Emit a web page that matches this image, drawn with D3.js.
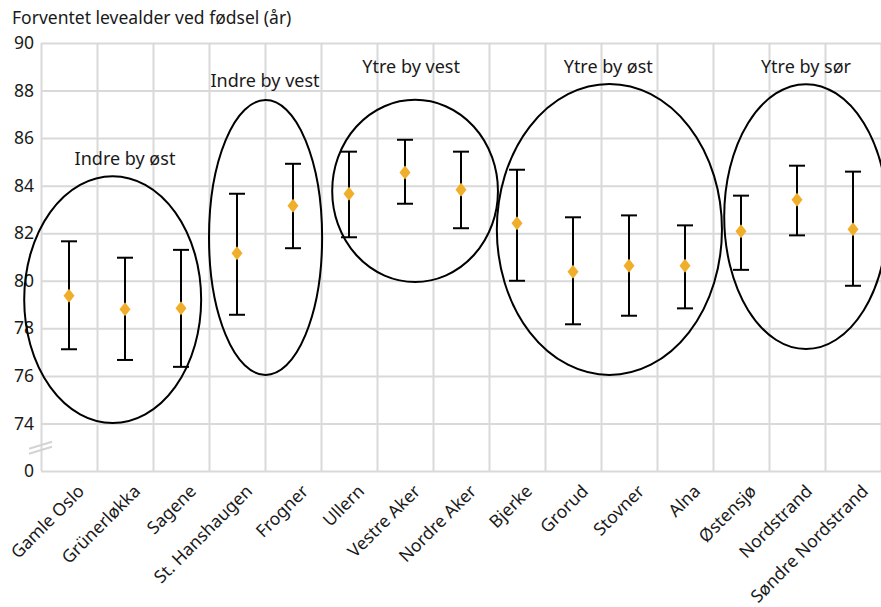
<!DOCTYPE html>
<html>
<head>
<meta charset="utf-8">
<script src="https://cdn.jsdelivr.net/npm/d3@7"></script>
<style>
  body { margin: 0; background: #fff; }
  .text { font-family: "Noto Sans", sans-serif; fill: #1a1a1a; }
  .grid line { stroke: #d9d9d9; stroke-width: 2; }
  .grid path { display: none; }
</style>
</head>
<body>
<div class="chart"></div>
<script>
// bydeler og forventet levealder (punkt + konfidensintervall)
var districts = ['Gamle Oslo', 'Grünerløkka', 'Sagene', 'St. Hanshaugen', 'Frogner', 'Ullern',
    'Vestre Aker', 'Nordre Aker', 'Bjerke', 'Grorud', 'Stovner', 'Alna', 'Østensjø',
    'Nordstrand', 'Søndre Nordstrand'];
var means = [79.37, 78.80, 78.84, 81.16, 83.16, 83.66, 84.55, 83.83, 82.42, 80.38, 80.63, 80.63, 82.08, 83.41, 82.17];
var lower = [77.12, 76.67, 76.38, 78.57, 81.37, 81.83, 83.24, 82.21, 80.00, 78.17, 78.53, 78.84, 80.46, 81.91, 79.79];
var upper = [81.66, 80.97, 81.30, 83.66, 84.92, 85.43, 85.93, 85.43, 84.67, 82.67, 82.75, 82.33, 83.58, 84.84, 84.59];

// y ticks, 72 is drawn as the broken "0"
var yTicks = [72, 74, 76, 78, 80, 82, 84, 86, 88, 90];

// grupper (ellipser), i kategori-enheter og år
var groupNames = ['Indre by øst', 'Indre by vest', 'Ytre by vest', 'Ytre by øst', 'Ytre by sør'];
var groupCx = [1.28, 4.01, 6.68, 10.15, 13.66];
var groupRx = [1.58, 1.01, 1.48, 2.01, 1.46];
var groupCy = [79.21, 81.82, 83.78, 82.16, 82.70];
var groupRy = [5.19, 5.78, 3.83, 6.12, 5.57];
var labelX = [1.5, 4.0, 6.61, 10.13, 13.66];
var labelY = [84.87, 88.15, 88.74, 88.74, 88.74];

var width = 881, height = 607;
var margin = { top: 43, right: 0, bottom: 136, left: 41 };

var svg = d3.select(".chart")
    .append("svg")
    .attr("width", width)
    .attr("height", height);

var x = d3.scaleBand()
    .domain(districts)
    .range([margin.left, width - margin.right]);

var xc = d3.scaleLinear()
    .domain([0, districts.length])
    .range([margin.left, width - margin.right]);

var y = d3.scaleLinear()
    .domain([72, 90])
    .range([height - margin.bottom, margin.top]);

// vertical gridlines at category borders
svg.append("g")
    .attr("class", "grid")
    .attr("transform", "translate(0," + (height - margin.bottom) + ")")
    .call(d3.axisBottom(xc)
        .tickValues(d3.range(0, districts.length + 1))
        .tickSize(-(height - margin.bottom - margin.top))
        .tickFormat(""));

// horizontal gridlines
svg.append("g")
    .attr("class", "grid")
    .attr("transform", "translate(" + margin.left + ",0)")
    .call(d3.axisLeft(y)
        .tickValues(yTicks)
        .tickSize(-(width - margin.left - margin.right))
        .tickFormat(""));

// y labels
svg.append("g")
    .selectAll("text")
    .data(yTicks)
    .enter()
    .append("text")
    .attr("class", "text")
    .attr("x", margin.left - 7)
    .attr("y", function(d) { return y(d); })
    .attr("dy", "0.35em")
    .attr("text-anchor", "end")
    .style("font-size", "17.5px")
    .text(function(d) { return d === 72 ? "0" : d; });

// axis break marks
var yb = (y(72) + y(74)) / 2;
[-2.5, 2.5].forEach(function(o) {
    svg.append("line")
        .attr("x1", margin.left - 12).attr("y1", yb + o + 4)
        .attr("x2", margin.left + 11).attr("y2", yb + o - 3)
        .style("stroke", "#d3d3d3")
        .style("stroke-width", 2);
});

// x labels, rotated
svg.append("g")
    .selectAll("text")
    .data(districts)
    .enter()
    .append("text")
    .attr("class", "text")
    .attr("text-anchor", "end")
    .attr("transform", function(d) {
        return "translate(" + (x(d) + x.bandwidth() / 2 + 12) + "," + (height - margin.bottom + 17) + ") rotate(-45)";
    })
    .attr("dy", "0.35em")
    .style("font-size", "17.5px")
    .text(function(d) { return d; });

// group ellipses
svg.append("g")
    .selectAll("ellipse")
    .data(groupNames)
    .enter()
    .append("ellipse")
    .attr("cx", function(d, i) { return xc(groupCx[i]); })
    .attr("cy", function(d, i) { return y(groupCy[i]); })
    .attr("rx", function(d, i) { return xc(groupRx[i]) - xc(0); })
    .attr("ry", function(d, i) { return y(90 - groupRy[i]) - y(90); })
    .style("fill", "none")
    .style("stroke", "#000")
    .style("stroke-width", 2);

svg.append("g")
    .selectAll("text")
    .data(groupNames)
    .enter()
    .append("text")
    .attr("class", "text")
    .attr("x", function(d, i) { return xc(labelX[i]); })
    .attr("y", function(d, i) { return y(labelY[i]); })
    .attr("text-anchor", "middle")
    .style("font-size", "18px")
    .text(function(d) { return d; });

// error bars
var bars = svg.append("g")
    .selectAll("g")
    .data(districts)
    .enter()
    .append("g");

var cap = 8;
function cx(d) { return x(d) + x.bandwidth() / 2; }

bars.append("line")
    .attr("x1", cx).attr("x2", cx)
    .attr("y1", function(d, i) { return y(lower[i]); })
    .attr("y2", function(d, i) { return y(upper[i]); })
    .style("stroke", "#000").style("stroke-width", 2);

bars.append("line")
    .attr("x1", function(d) { return cx(d) - cap; })
    .attr("x2", function(d) { return cx(d) + cap; })
    .attr("y1", function(d, i) { return y(upper[i]); })
    .attr("y2", function(d, i) { return y(upper[i]); })
    .style("stroke", "#000").style("stroke-width", 2);

bars.append("line")
    .attr("x1", function(d) { return cx(d) - cap; })
    .attr("x2", function(d) { return cx(d) + cap; })
    .attr("y1", function(d, i) { return y(lower[i]); })
    .attr("y2", function(d, i) { return y(lower[i]); })
    .style("stroke", "#000").style("stroke-width", 2);

// diamonds
bars.append("path")
    .attr("d", "M0,-7L5.5,0L0,7L-5.5,0Z")
    .attr("transform", function(d, i) { return "translate(" + cx(d) + "," + y(means[i]) + ")"; })
    .style("fill", "#f0ae2a");

// title
svg.append("text")
    .attr("class", "text")
    .attr("x", 12)
    .attr("y", 24)
    .style("font-size", "17.5px")
    .text("Forventet levealder ved fødsel (år)");
</script>
</body>
</html>
